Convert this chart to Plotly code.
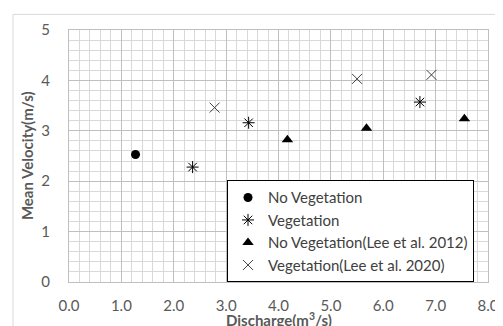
import plotly.graph_objects as go

# Data
noveg_x = [1.27]
noveg_y = [2.53]
veg_x = [2.36, 3.43, 6.70]
veg_y = [2.28, 3.16, 3.57]
lee2012_x = [4.17, 5.68, 7.55]
lee2012_y = [2.82, 3.05, 3.24]
lee2020_x = [2.78, 5.50, 6.92]
lee2020_y = [3.46, 4.03, 4.11]
x_ticks = [0, 1, 2, 3, 4, 5, 6, 7, 8]
x_tick_labels = ["0.0", "1.0", "2.0", "3.0", "4.0", "5.0", "6.0", "7.0", "8.0"]
y_ticks = [0, 1, 2, 3, 4, 5]

FONT = "Lato"
GRAY = "#595959"

fig = go.Figure()
fig.add_trace(go.Scatter(x=noveg_x, y=noveg_y, mode="markers", name="No Vegetation",
                         marker=dict(symbol="circle", size=9, color="black")))
fig.add_trace(go.Scatter(x=veg_x, y=veg_y, mode="markers", name="Vegetation",
                         marker=dict(symbol="asterisk-open", size=10, color="black",
                                     line=dict(width=1, color="#262626"))))
fig.add_trace(go.Scatter(x=lee2012_x, y=lee2012_y, mode="markers",
                         name="No Vegetation(Lee et al. 2012)",
                         marker=dict(symbol="triangle-up", size=10, color="black")))
fig.add_trace(go.Scatter(x=lee2020_x, y=lee2020_y, mode="markers",
                         name="Vegetation(Lee et al. 2020)",
                         marker=dict(symbol="x-thin-open", size=10, color="#404040",
                                     line=dict(width=1, color="#404040"))))

fig.update_layout(
    width=503, height=326,
    margin=dict(l=61, r=23, t=16, b=52),
    paper_bgcolor="white", plot_bgcolor="white",
    font=dict(family=FONT, size=15, color=GRAY),
    showlegend=True,
    legend=dict(x=0.9666, y=0.2016, xanchor="right", yanchor="middle",
                bgcolor="white", bordercolor="black", borderwidth=1,
                font=dict(family=FONT, size=15, color="#404040"),
                itemwidth=30, tracegroupgap=0),
    xaxis=dict(range=[0, 8], tickvals=x_ticks, ticktext=x_tick_labels,
               showgrid=True, gridcolor="#bfbfbf", gridwidth=1,
               minor=dict(dtick=0.2, showgrid=True, gridcolor="#d9d9d9", gridwidth=1),
               zeroline=False, showline=True, linecolor="#bfbfbf", mirror=True,
               ticks="", ticklabelstandoff=10,
               tickfont=dict(family=FONT, size=15, color=GRAY)),
    yaxis=dict(range=[0, 5], tickvals=y_ticks,
               showgrid=True, gridcolor="#bfbfbf", gridwidth=1,
               minor=dict(dtick=0.2, showgrid=True, gridcolor="#d9d9d9", gridwidth=1),
               zeroline=False, showline=True, linecolor="#bfbfbf", mirror=True,
               ticks="", ticklabelstandoff=15,
               tickfont=dict(family=FONT, size=15, color=GRAY)),
    annotations=[
        dict(text="<b>Discharge(m<sup>3</sup>/s)</b>", xref="paper", yref="paper",
             x=0.5, y=-0.15, xanchor="center", yanchor="middle", showarrow=False,
             font=dict(family=FONT, size=15, color=GRAY)),
        dict(text="<b>Mean Velocity(m/s)</b>", xref="paper", yref="paper",
             x=-0.1, y=0.5, xanchor="center", yanchor="middle", showarrow=False,
             textangle=-90, font=dict(family=FONT, size=15, color=GRAY)),
    ],
    shapes=[
        dict(type="line", xref="paper", yref="paper", x0=-0.1337, x1=-0.1337,
             y0=-0.3, y1=1.062, line=dict(color="#d9d9d9", width=1)),
        dict(type="line", xref="paper", yref="paper", x0=-0.1337, x1=1.2,
             y0=1.062, y1=1.062, line=dict(color="#d9d9d9", width=1)),
    ],
)

fig.write_html("out.html")
